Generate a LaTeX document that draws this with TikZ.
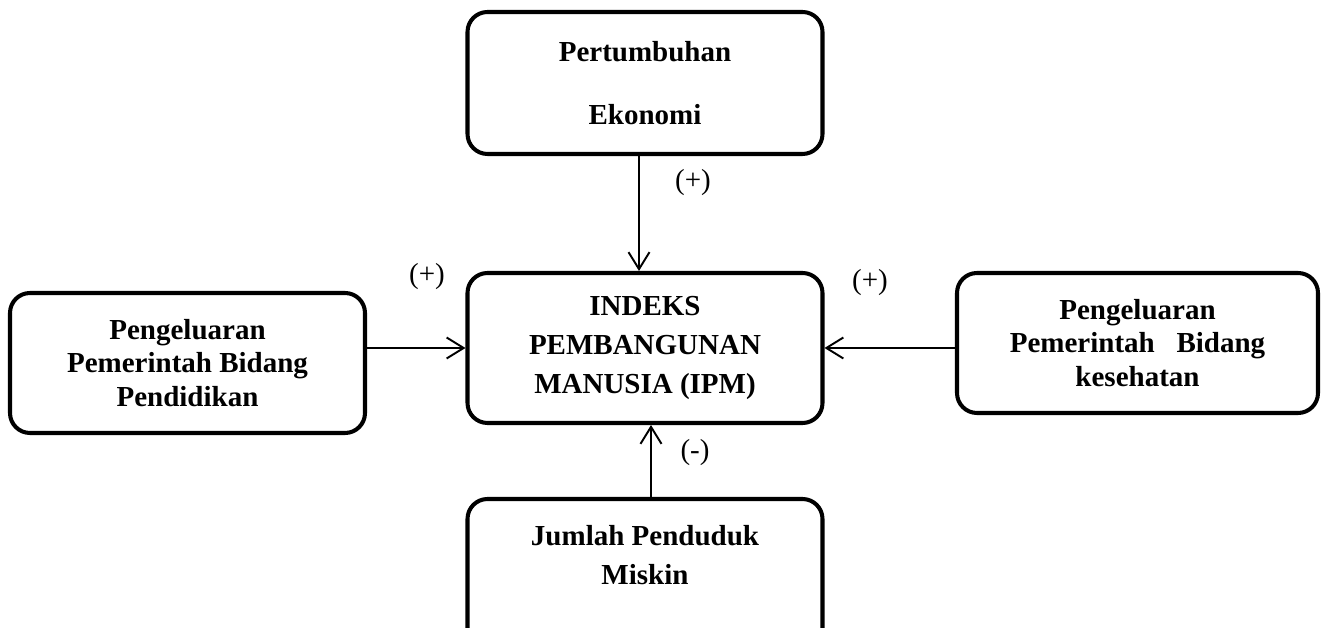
\documentclass[tikz,border=0pt]{standalone}
\usepackage{fontspec}
\setmainfont{Liberation Serif}
\usetikzlibrary{arrows.meta,positioning}

\begin{document}
\begin{tikzpicture}[
  box/.style={draw,rounded corners=0.4cm,line width=2.3pt,align=center,
    minimum width=7.1cm,minimum height=2.8cm,inner sep=0pt,
    font=\fontsize{16.5}{22}\selectfont\bfseries},
  sign/.style={font=\fontsize{16.5}{22}\selectfont},
  link/.style={line width=1.1pt,-{Straight Barb[length=0.34cm,width=0.42cm]}}]
\useasboundingbox (0,0) rectangle (26.5,12.56);
\clip (0,0) rectangle (26.5,12.56);
\node[box,minimum height=2.84cm] (eko) at (12.9,10.9){Pertumbuhan\\[0.48cm]Ekonomi};
\node[box,minimum height=3cm] (ipm) at (12.9,5.6){INDEKS\\PEMBANGUNAN\\MANUSIA (IPM)};
\node[box] (didik) at (3.75,5.3){Pengeluaran\\[-0.1cm]Pemerintah Bidang\\[-0.1cm]Pendidikan};
\node[box,minimum width=7.22cm] (sehat) at (22.75,5.7){Pengeluaran\\[-0.1cm]Pemerintah\ \ \ Bidang\\[-0.1cm]kesehatan};
\node[box,minimum height=3cm] (miskin) at (12.9,1.08){Jumlah Penduduk\\Miskin\\~};
\node[sign] (s1) at (13.86,8.9){(+)};
\node[sign] (s2) at (8.54,7.02){(+)};
\node[sign] (s3) at (17.4,6.9){(+)};
\node[sign] (s4) at (13.9,3.5){(-)};
\draw[link] ([xshift=-0.12cm]eko.south) -- ([xshift=-0.12cm]ipm.north);
\draw[link] ([xshift=0.12cm]miskin.north) -- ([xshift=0.12cm]ipm.south);
\draw[link] (didik.east |- ipm.west) -- (ipm.west);
\draw[link] (sehat.west |- ipm.east) -- (ipm.east);
\end{tikzpicture}
\end{document}
